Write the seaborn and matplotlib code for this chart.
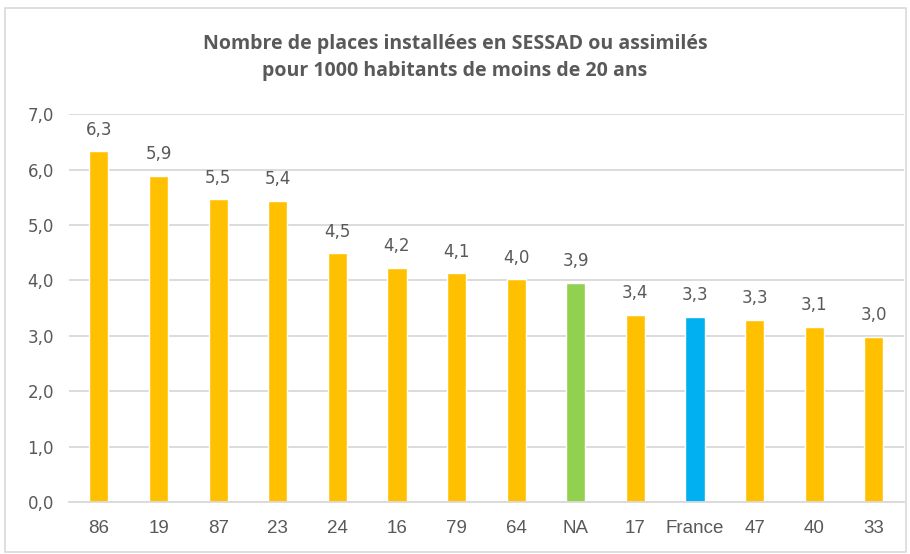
import matplotlib
matplotlib.use('Agg')
import matplotlib.pyplot as plt
import seaborn as sns
import pandas as pd
from matplotlib.patches import Rectangle

# Données
departements = ['86', '19', '87', '23', '24', '16', '79', '64', 'NA', '17', 'France', '47', '40', '33']
places = [6.33, 5.89, 5.46, 5.44, 4.49, 4.23, 4.13, 4.02, 3.96, 3.38, 3.34, 3.29, 3.16, 2.98]
etiquettes = ['6,3', '5,9', '5,5', '5,4', '4,5', '4,2', '4,1', '4,0', '3,9', '3,4', '3,3', '3,3', '3,1', '3,0']

couleurs = {d: '#FFC000' for d in departements}
couleurs['NA'] = '#92D050'
couleurs['France'] = '#00B0F0'

df = pd.DataFrame({'dep': departements, 'valeur': places})

sns.set_theme(style='white')
gris = '#595959'

fig = plt.figure(figsize=(9.1, 5.54), dpi=100)
ax = fig.add_axes([0.076, 0.094, 0.917, 0.700])

sns.barplot(data=df, x='dep', y='valeur', hue='dep', palette=couleurs,
            width=0.32, legend=False, ax=ax, saturation=1)

ax.set_ylim(0, 7)
ax.set_yticks([0, 1, 2, 3, 4, 5, 6, 7])
ax.set_yticklabels([f'{v:.1f}'.replace('.', ',') for v in range(8)],
                   fontsize=12, color=gris, family=['DejaVu Sans'])
ax.set_xticks(range(len(departements)))
ax.set_xticklabels(departements, fontsize=13.5, color=gris,
                   family=['Liberation Sans Narrow', 'Liberation Sans', 'DejaVu Sans'])
ax.tick_params(axis='x', length=0, pad=13)
ax.tick_params(axis='y', length=0, pad=11)
ax.set_xlabel('')
ax.set_ylabel('')
ax.yaxis.grid(True, color='#D9D9D9', linewidth=1.3)
ax.set_axisbelow(True)
for s in ['top', 'right', 'left']:
    ax.spines[s].set_visible(False)
ax.spines['bottom'].set_color('#D9D9D9')
ax.spines['bottom'].set_linewidth(1.3)

# Étiquettes des valeurs
for i, (v, t) in enumerate(zip(places, etiquettes)):
    ax.annotate(t, (i, v), xytext=(0, 9), textcoords='offset points',
                ha='center', va='bottom', fontsize=12, color=gris,
                family=['DejaVu Sans'])

fig.text(0.5, 0.896, 'Nombre de places installées en SESSAD ou assimilés\npour 1000 habitants de moins de 20 ans',
         ha='center', va='center', fontsize=14, fontweight='bold', color=gris,
         linespacing=1.5, family=['Open Sans', 'DejaVu Sans'])

# Cadre du graphique
fig.patches.append(Rectangle((0.006, 0.004), 0.99, 0.982, transform=fig.transFigure,
                             fill=False, edgecolor='#D9D9D9', linewidth=1.2))

fig.savefig('out.png', dpi=100)
